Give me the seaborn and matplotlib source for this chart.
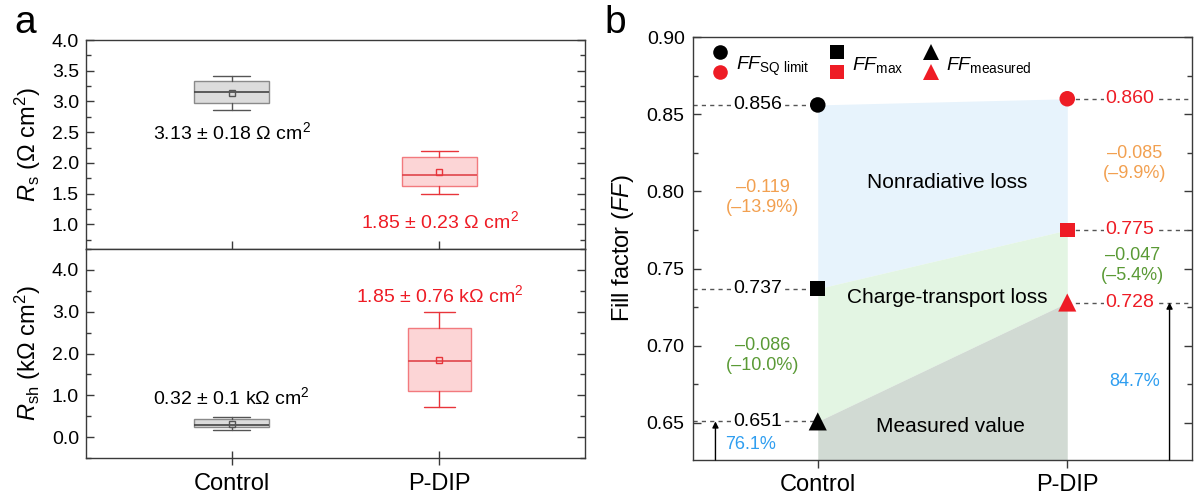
import numpy as np
import pandas as pd
import matplotlib
matplotlib.use("Agg")
import matplotlib.pyplot as plt
from matplotlib.lines import Line2D
from matplotlib.legend_handler import HandlerBase
from matplotlib.ticker import MultipleLocator, FormatStrFormatter
import seaborn as sns

# ---------------- data ----------------
groups = ["Control", "P-DIP"]

# panel a (top): series resistance Rs (Ohm cm2), box statistics
rs_whislo = [2.86, 1.50]
rs_q1 = [2.97, 1.62]
rs_med = [3.15, 1.81]
rs_q3 = [3.33, 2.10]
rs_whishi = [3.41, 2.20]
rs_mean = [3.13, 1.85]
rs_sd = [0.18, 0.23]

# panel a (bottom): shunt resistance Rsh (kOhm cm2), box statistics
rsh_whislo = [0.17, 0.71]
rsh_q1 = [0.24, 1.10]
rsh_med = [0.30, 1.83]
rsh_q3 = [0.43, 2.62]
rsh_whishi = [0.48, 3.00]
rsh_mean = [0.32, 1.85]
rsh_sd = [0.10, 0.76]

# panel b: fill factors
ff_sq = [0.856, 0.860]
ff_max = [0.737, 0.775]
ff_meas = [0.651, 0.728]
nonrad_labels = ["\u20130.119\n(\u201313.9%)", "\u20130.085\n(\u20139.9%)"]
transport_labels = ["\u20130.086\n(\u201310.0%)", "\u20130.047\n(\u20135.4%)"]
ratio_labels = ["76.1%", "84.7%"]

# ---------------- style ----------------
sns.set_theme(style="ticks")
plt.rcParams["font.family"] = ["Liberation Sans", "DejaVu Sans"]
plt.rcParams["mathtext.fontset"] = "custom"
plt.rcParams["mathtext.rm"] = "Liberation Sans"
plt.rcParams["mathtext.it"] = "Liberation Sans:italic"
plt.rcParams["mathtext.bf"] = "Liberation Sans:bold"
plt.rcParams["axes.linewidth"] = 1.0
plt.rcParams["text.color"] = "black"
plt.rcParams["axes.labelcolor"] = "black"
plt.rcParams["xtick.labelcolor"] = "black"
plt.rcParams["ytick.labelcolor"] = "black"

SPINE = "#3a3a3a"
RED = "#ee1c25"
ORANGE = "#f2a050"
GREEN = "#5a9a35"
BLUE = "#2f9ef0"

x_pos = np.arange(len(groups))

W, H = 1194, 500
fig = plt.figure(figsize=(W / 100, H / 100), dpi=100)
axA1 = fig.add_axes([86 / W, 251 / H, 499 / W, 209 / H])
axA2 = fig.add_axes([86 / W, 42 / H, 499 / W, 209 / H])
axB = fig.add_axes([693 / W, 40 / H, 499 / W, 423 / H])

for ax in (axA1, axA2, axB):
    for s in ax.spines.values():
        s.set_color(SPINE)
        s.set_linewidth(1.0)
        s.set_visible(True)

box_styles = [
    dict(face="#dcdcdc", edge="#8a8a8a", line="#555555", med="#444444"),
    dict(face="#fcd5d6", edge="#f27a7e", line="#e8353b", med="#e0464b"),
]


def draw_boxes(ax, whislo, q1, med, q3, whishi, mean, widths, capwidths):
    stats = []
    for i, g in enumerate(groups):
        stats.append(dict(whislo=whislo[i], q1=q1[i], med=med[i], q3=q3[i],
                          whishi=whishi[i], mean=mean[i], fliers=[], label=g))
    bp = ax.bxp(stats, positions=x_pos, widths=widths, capwidths=capwidths,
                patch_artist=True, showmeans=True, showfliers=False,
                manage_ticks=False)
    for i, st in enumerate(box_styles):
        bp["boxes"][i].set(facecolor=st["face"], edgecolor=st["edge"], linewidth=1.0)
        bp["medians"][i].set(color=st["med"], linewidth=1.2)
        for k in (2 * i, 2 * i + 1):
            bp["whiskers"][k].set(color=st["line"], linewidth=1.0)
            bp["caps"][k].set(color=st["line"], linewidth=1.0)
        bp["means"][i].set(marker="s", markerfacecolor="none",
                           markeredgecolor=st["line"], markersize=4.5,
                           markeredgewidth=1.0)


# ---------------- panel a top ----------------
draw_boxes(axA1, rs_whislo, rs_q1, rs_med, rs_q3, rs_whishi, rs_mean,
           widths=[0.36, 0.36], capwidths=[0.18, 0.18])
axA1.set_xlim(-0.7, 1.7)
axA1.set_ylim(0.6, 4.0)
axA1.yaxis.set_minor_locator(MultipleLocator(0.25))
axA1.set_yticks([1.0, 1.5, 2.0, 2.5, 3.0, 3.5, 4.0])
axA1.yaxis.set_major_formatter(FormatStrFormatter("%.1f"))
axA1.set_xticks(x_pos)
axA1.tick_params(axis="x", direction="in", length=6, width=1, color=SPINE,
                 labelbottom=False, bottom=True, top=False)
axA1.tick_params(axis="y", which="both", direction="in", left=True, right=True,
                 width=1, color=SPINE, labelsize=14, pad=5)
axA1.tick_params(axis="y", which="major", length=6)
axA1.tick_params(axis="y", which="minor", length=3.5)
axA1.set_ylabel(r"$R_{\rm s}$ ($\Omega$ cm$^2$)", fontsize=17, labelpad=6)

rs_cols = ["black", RED]
rs_text_y = [2.50, 1.06]
for i in range(len(groups)):
    axA1.text(x_pos[i], rs_text_y[i],
              f"{rs_mean[i]:g} \u00b1 {rs_sd[i]:g} \u03a9 cm$^2$",
              ha="center", va="center", fontsize=14, color=rs_cols[i])

# ---------------- panel a bottom ----------------
draw_boxes(axA2, rsh_whislo, rsh_q1, rsh_med, rsh_q3, rsh_whishi, rsh_mean,
           widths=[0.36, 0.30], capwidths=[0.18, 0.15])
axA2.set_xlim(-0.7, 1.7)
axA2.set_ylim(-0.5, 4.5)
axA2.set_yticks([0, 1, 2, 3, 4])
axA2.yaxis.set_minor_locator(MultipleLocator(0.5))
axA2.yaxis.set_major_formatter(FormatStrFormatter("%.1f"))
axA2.set_xticks(x_pos)
axA2.set_xticklabels(groups, fontsize=17)
axA2.tick_params(axis="x", direction="inout", length=10, width=1, color=SPINE,
                 pad=6, top=False)
axA2.tick_params(axis="y", which="both", direction="in", left=True, right=True,
                 width=1, color=SPINE, labelsize=14, pad=5)
axA2.tick_params(axis="y", which="major", length=6)
axA2.tick_params(axis="y", which="minor", length=3.5)
axA2.set_ylabel(r"$R_{\rm sh}$ (k$\Omega$ cm$^2$)", fontsize=17, labelpad=6)

rsh_text_y = [0.95, 3.40]
for i in range(len(groups)):
    axA2.text(x_pos[i], rsh_text_y[i],
              f"{rsh_mean[i]:g} \u00b1 {rsh_sd[i]:g} k\u03a9 cm$^2$",
              ha="center", va="center", fontsize=14, color=rs_cols[i])

fig.align_ylabels([axA1, axA2])

# ---------------- panel b ----------------
axB.set_xlim(-0.5, 1.5)
axB.set_ylim(0.626, 0.90)
ybot = axB.get_ylim()[0]

axB.fill_between(x_pos, ff_max, ff_sq, color="#e7f3fc", lw=0, zorder=1)
axB.fill_between(x_pos, ff_meas, ff_max, color="#e3f5e3", lw=0, zorder=1)
axB.fill_between(x_pos, [ybot, ybot], ff_meas, color="#d1dad3", lw=0, zorder=1)

# dashed guide lines
for v in (ff_sq[0], ff_max[0], ff_meas[0]):
    axB.plot([-0.5, x_pos[0]], [v, v], ls=(0, (3, 3)), color="#555555", lw=1, zorder=2)
for v in (ff_sq[1], ff_max[1], ff_meas[1]):
    axB.plot([x_pos[1], 1.5], [v, v], ls=(0, (3, 3)), color="#555555", lw=1, zorder=2)

df = pd.DataFrame({
    "x": np.concatenate([x_pos, x_pos, x_pos]),
    "FF": ff_sq + ff_max + ff_meas,
    "group": groups * 3,
    "kind": ["SQ"] * 2 + ["max"] * 2 + ["meas"] * 2,
})
pal = {"Control": "black", "P-DIP": RED}
kind_marker = {"SQ": "o", "max": "s", "meas": "^"}
kind_size = {"SQ": 125, "max": 115, "meas": 170}
for k in ["SQ", "max", "meas"]:
    sub = df[df["kind"] == k]
    sns.scatterplot(data=sub, x="x", y="FF", hue="group", palette=pal,
                    marker=kind_marker[k], s=kind_size[k], linewidth=0,
                    legend=False, ax=axB, zorder=6, clip_on=False)

# value labels
bb = dict(facecolor="white", edgecolor="none", pad=1.0)
for v in (ff_sq[0], ff_max[0], ff_meas[0]):
    axB.text(-0.24, v, f"{v:.3f}", ha="center", va="center", fontsize=14,
             color="black", bbox=bb, zorder=4)
for v in (ff_sq[1], ff_max[1], ff_meas[1]):
    axB.text(1.25, v, f"{v:.3f}", ha="center", va="center", fontsize=14,
             color=RED, bbox=bb, zorder=4)

axB.text(-0.22, 0.796, nonrad_labels[0], ha="center", va="center", fontsize=13,
         color=ORANGE, linespacing=1.25)
axB.text(1.27, 0.818, nonrad_labels[1], ha="center", va="center", fontsize=13,
         color=ORANGE, linespacing=1.25)
axB.text(-0.22, 0.6935, transport_labels[0], ha="center", va="center", fontsize=13,
         color=GREEN, linespacing=1.25)
axB.text(1.26, 0.752, transport_labels[1], ha="center", va="center", fontsize=13,
         color=GREEN, linespacing=1.25)

axB.text(0.52, 0.806, "Nonradiative loss", ha="center", va="center", fontsize=15, zorder=3)
axB.text(0.52, 0.731, "Charge-transport loss", ha="center", va="center", fontsize=15, zorder=3)
axB.text(0.53, 0.648, "Measured value", ha="center", va="center", fontsize=15, zorder=3)

axB.text(-0.27, 0.636, ratio_labels[0], ha="center", va="center", fontsize=13, color=BLUE)
axB.text(1.27, 0.677, ratio_labels[1], ha="center", va="center", fontsize=13, color=BLUE)

arrow_kw = dict(arrowstyle="-|>", color="black", lw=1.0, mutation_scale=9,
                shrinkA=0, shrinkB=0)
axB.annotate("", xy=(-0.41, ff_meas[0]), xytext=(-0.41, ybot), arrowprops=arrow_kw)
axB.annotate("", xy=(1.41, ff_meas[1]), xytext=(1.41, ybot), arrowprops=arrow_kw)

axB.set_yticks([0.65, 0.70, 0.75, 0.80, 0.85, 0.90])
axB.yaxis.set_minor_locator(MultipleLocator(0.025))
axB.yaxis.set_major_formatter(FormatStrFormatter("%.2f"))
axB.set_xticks(x_pos)
axB.set_xticklabels(groups, fontsize=17)
axB.tick_params(axis="x", direction="out", length=6, width=1, color=SPINE,
                pad=4, top=False)
axB.tick_params(axis="y", which="both", direction="in", left=True, right=True,
                width=1, color=SPINE, labelsize=14, pad=6)
axB.tick_params(axis="y", which="major", length=6)
axB.tick_params(axis="y", which="minor", length=3.5)
axB.set_xlabel("")
axB.set_ylabel(r"Fill factor ($\it{FF}$)", fontsize=17, labelpad=8)


# legend with stacked black/red markers
class StackHandler(HandlerBase):
    def create_artists(self, legend, orig_handle, xdescent, ydescent,
                       width, height, fontsize, trans):
        top, bot = orig_handle
        cx = width / 2 - xdescent
        cy = (height - ydescent) / 2
        arts = []
        for h, dy in ((top, 7.4), (bot, -7.4)):
            ln = Line2D([cx], [cy + dy], marker=h.get_marker(), linestyle="none",
                        markerfacecolor=h.get_markerfacecolor(),
                        markeredgecolor=h.get_markeredgecolor(),
                        markersize=h.get_markersize(), markeredgewidth=0)
            ln.set_transform(trans)
            arts.append(ln)
        return arts


def mk(m, c, ms):
    return Line2D([], [], marker=m, color=c, linestyle="none", markersize=ms)


handles = [
    (mk("o", "black", 10.5), mk("o", RED, 10.5)),
    (mk("s", "black", 9.5), mk("s", RED, 9.5)),
    (mk("^", "black", 11.5), mk("^", RED, 11.5)),
]
labels = [r"$\it{FF}_{\rm SQ\ limit}$", r"$\it{FF}_{\rm max}$", r"$\it{FF}_{\rm measured}$"]
leg = axB.legend(handles, labels, handler_map={tuple: StackHandler()},
                 loc="upper left", bbox_to_anchor=(0.0, 1.0), ncol=3,
                 frameon=False, fontsize=14, handlelength=1.0, handleheight=1.0,
                 handletextpad=0.3, columnspacing=0.9, borderaxespad=0.5)

# panel letters
fig.text(14 / W, 1 - 33 / H, "a", fontsize=28, va="baseline", ha="left")
fig.text(604 / W, 1 - 33 / H, "b", fontsize=28, va="baseline", ha="left")

fig.savefig("out.png", dpi=100)
